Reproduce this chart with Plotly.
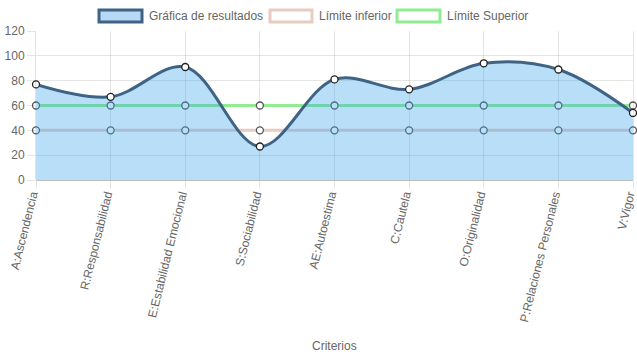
import plotly.graph_objects as go

categories = ["A:Ascendencia", "R:Responsabilidad", "E:Estabilidad Emocional",
              "S:Sociabilidad", "AE:Autoestima", "C:Cautela", "O:Originalidad",
              "P:Relaciones Personales", "V:Vigor"]
resultados = [77, 67, 91, 27, 81, 73, 94, 89, 54]
limite_inferior = [40, 40, 40, 40, 40, 40, 40, 40, 40]
limite_superior = [60, 60, 60, 60, 60, 60, 60, 60, 60]
y_ticks = [0, 20, 40, 60, 80, 100, 120]

names = ["Gráfica de resultados", "Límite inferior", "Límite Superior"]
c_res_line = "rgb(62,99,133)"
c_res_fill = "rgba(54,162,235,0.35)"
c_inf = "rgb(232,204,194)"
c_sup = "rgb(144,236,144)"

FONT = "Liberation Sans, Arial, sans-serif"
GREY = "#666666"

W, H = 637, 359
PL, PT, PR, PB = 36, 31, 4, 179  # plot area: screen x 36..633, y 31..180
PW, PH = W - PL - PR, H - PT - PB

def px(sx):
    return (sx - PL) / PW

def py(sy):
    return (PT + PH - sy) / PH

x = list(range(len(categories)))
fig = go.Figure()

fig.add_trace(go.Scatter(
    x=x, y=limite_superior, mode="lines+markers", name=names[2],
    line=dict(color=c_sup, width=3),
    marker=dict(size=7, color="white", line=dict(color="#555", width=1.3)),
    cliponaxis=False, showlegend=False))
fig.add_trace(go.Scatter(
    x=x, y=limite_inferior, mode="lines+markers", name=names[1],
    line=dict(color=c_inf, width=3),
    marker=dict(size=7, color="white", line=dict(color="#555", width=1.3)),
    cliponaxis=False, showlegend=False))
fig.add_trace(go.Scatter(
    x=x, y=resultados, mode="lines+markers", name=names[0],
    fill="tozeroy", fillcolor=c_res_fill,
    line=dict(color=c_res_line, width=3, shape="spline", smoothing=1),
    marker=dict(size=7, color="white", line=dict(color="#222", width=1.3)),
    cliponaxis=False, showlegend=False))

# Chart.js-style legend (boxes + labels)
legend_items = [
    (99, 142, 147, names[0], "rgb(184,217,246)", c_res_line),
    (270, 312, 317, names[1], "white", c_inf),
    (397, 440, 445, names[2], "white", c_sup),
]
for x0, x1, tx, label, fill, border in legend_items:
    fig.add_shape(type="rect", xref="paper", yref="paper",
                  x0=px(x0), x1=px(x1), y0=py(22), y1=py(10),
                  fillcolor=fill, line=dict(color=border, width=3), layer="above")
    fig.add_annotation(xref="paper", yref="paper",
                       x=px(tx), y=py(16),
                       text=label, showarrow=False, xanchor="left", yanchor="middle",
                       font=dict(family=FONT, size=12, color=GREY))

# axis title
fig.add_annotation(xref="paper", yref="paper", x=px(334), y=py(346),
                   text="Criterios", showarrow=False, xanchor="center", yanchor="middle",
                   font=dict(family=FONT, size=12, color=GREY))

fig.update_layout(
    width=W, height=H,
    margin=dict(l=PL, r=PR, t=PT, b=PB, autoexpand=False),
    paper_bgcolor="white", plot_bgcolor="white",
    font=dict(family=FONT, size=12, color=GREY),
    showlegend=False,
)
fig.update_xaxes(
    range=[0, 8], tickmode="array", tickvals=x, ticktext=categories,
    tickangle=-76, showgrid=True, gridcolor="rgba(0,0,0,0.1)",
    ticks="outside", ticklen=8, tickcolor="rgba(0,0,0,0.1)",
    ticklabelstandoff=-6, ticklabelshift=-4, ticklabeloverflow="allow",
    zeroline=False, showline=False, automargin=False,
    tickfont=dict(family=FONT, size=12, color=GREY),
)
fig.update_yaxes(
    range=[0, 120], tickmode="array", tickvals=y_ticks,
    showgrid=True, gridcolor="rgba(0,0,0,0.1)",
    ticks="outside", ticklen=8, tickcolor="rgba(0,0,0,0.1)",
    zeroline=True, zerolinecolor="rgba(0,0,0,0.25)", zerolinewidth=1,
    showline=True, mirror=True, linecolor="rgba(0,0,0,0.1)", automargin=False,
    tickfont=dict(family=FONT, size=12, color=GREY),
)

fig.write_html("out.html",
               config={"displayModeBar": False},
               post_script="document.body.style.margin='0';document.body.style.overflow='hidden';")
